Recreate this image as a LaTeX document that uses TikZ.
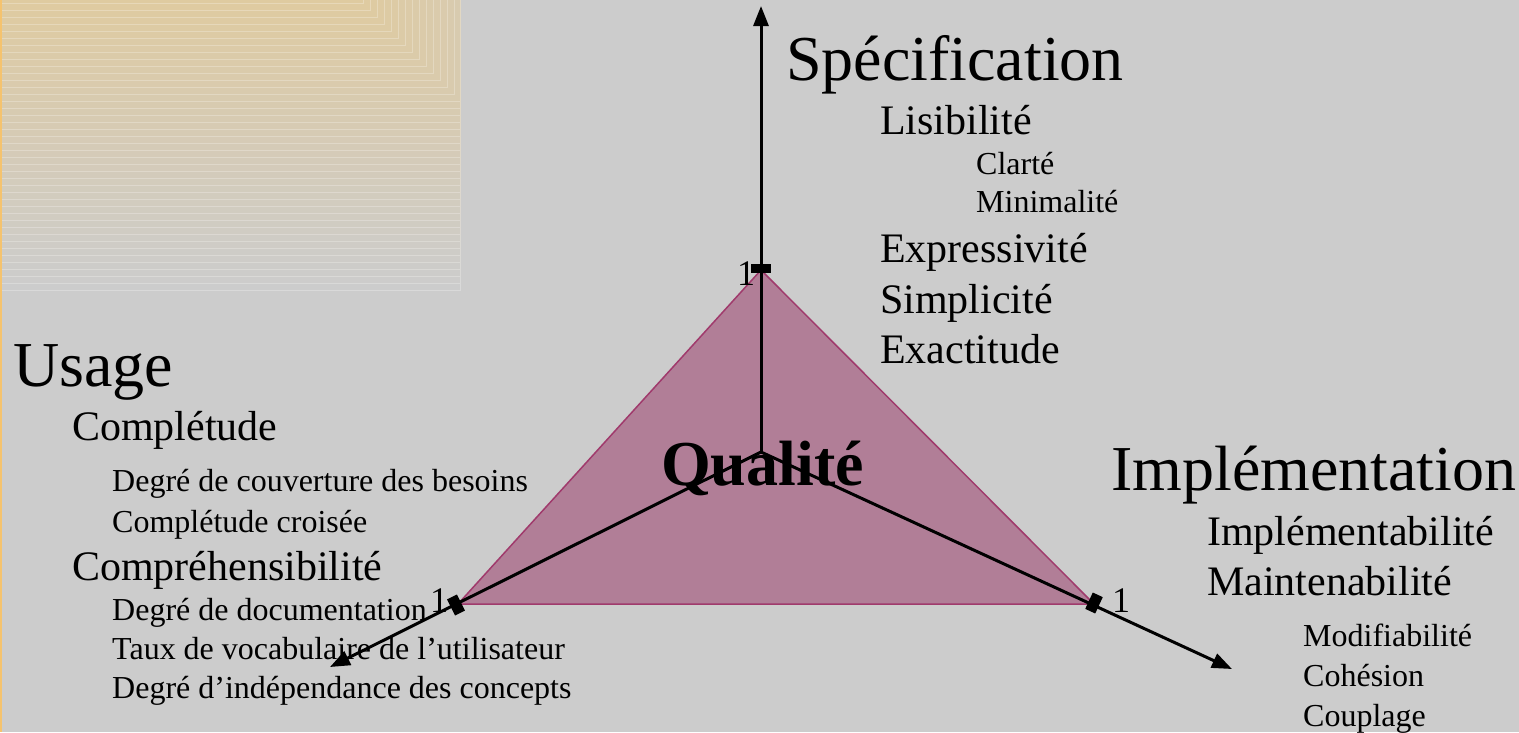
\documentclass[tikz,border=0pt]{standalone}
\usepackage{fontspec}
\setmainfont{Liberation Serif}
\usetikzlibrary{arrows.meta}
\definecolor{bgc}{RGB}{204,204,204}
\definecolor{tanc}{RGB}{223,203,160}
\definecolor{edgeo}{RGB}{245,195,110}
\definecolor{trifill}{RGB}{177,126,151}
\definecolor{tridraw}{RGB}{160,58,108}
\tikzset{
  lbl/.style={anchor=base west, inner sep=0pt, text=black},
  big/.style={lbl, font=\fontsize{64}{64}\selectfont},
  mid/.style={lbl, font=\fontsize{42}{42}\selectfont},
  sml/.style={lbl, font=\fontsize{32}{32}\selectfont},
  one/.style={lbl, font=\fontsize{36}{36}\selectfont},
  axis/.style={line width=3pt, -{Triangle[length=20pt,width=15pt]}},
  tick/.style={rectangle, fill=black, inner sep=0pt, minimum width=20pt, minimum height=9pt},
  stick/.style={rectangle, fill=black, inner sep=0pt, minimum width=18pt, minimum height=11pt},
}
\begin{document}
\begin{tikzpicture}[x=1pt,y=-1pt]
\useasboundingbox (0,0) rectangle (1519,732);
\fill[bgc] (0,0) rectangle (1519,732);
% top-left gradient of nested rectangles
\foreach \i in {0,...,41}{
  \pgfmathsetmacro{\h}{290-7*\i}
  \pgfmathsetmacro{\w}{min(460,360+\h)}
  \pgfmathsetmacro{\p}{100*\i/41}
  \colorlet{cur}{tanc!\p!bgc}
  \fill[cur] (0,0) rectangle (\w,\h);
  \draw[white!25!cur, line width=1pt] (0,\h) -- (\w,\h) -- (\w,0);
}
\draw[edgeo, line width=2pt] (1,0) -- (1,732);
% geometry
\coordinate (O) at (761,452);
\coordinate (A) at (761,270);
\coordinate (B) at (458,604);
\coordinate (C) at (1094,604);
\coordinate (eT) at (761,6);
\coordinate (eL) at (330,667);
\coordinate (eR) at (1232,669);
\draw[fill=trifill, draw=tridraw, line width=1.5pt, line join=miter] (A) -- (B) -- (C) -- cycle;
\draw[axis] (O) -- (eT);
\draw[axis] (O) -- (eL);
\draw[axis] (O) -- (eR);
\node[tick] (tA) at (761,268) {};
\node[stick, rotate=116.57] (tB) at (456,605) {};
\node[stick, rotate=65.3] (tC) at (1094,603) {};
\node[one] (oA) at (737,285) {1};
\node[one] (oB) at (430,612) {1};
\node[one] (oC) at (1112,612) {1};
\node[lbl, font=\fontsize{64}{64}\selectfont\bfseries] (q) at (661,485) {Qualité};
% Spécification
\node[big] (s0) at (786,80) {Spécification};
\node[mid] (s1) at (880,134) {Lisibilité};
\node[sml] (s2) at (976,174) {Clarté};
\node[sml] (s3) at (976,212) {Minimalité};
\node[mid] (s4) at (880,262) {Expressivité};
\node[mid] (s5) at (880,313) {Simplicité};
\node[mid] (s6) at (880,363) {Exactitude};
% Usage
\node[big] (u0) at (13,386) {Usage};
\node[mid] (u1) at (72,440) {Complétude};
\node[sml] (u2) at (112,491) {Degré de couverture des besoins};
\node[sml] (u3) at (112,532) {Complétude croisée};
\node[mid] (u4) at (72,580) {Compréhensibilité};
\node[sml] (u5) at (112,620) {Degré de documentation};
\node[sml] (u6) at (112,659) {Taux de vocabulaire de l’utilisateur};
\node[sml] (u7) at (112,698) {Degré d’indépendance des concepts};
% Implémentation
\node[big] (i0) at (1111,490) {Implémentation};
\node[mid] (i1) at (1207,545) {Implémentabilité};
\node[mid] (i2) at (1207,595) {Maintenabilité};
\node[sml] (i3) at (1303,646) {Modifiabilité};
\node[sml] (i4) at (1303,686) {Cohésion};
\node[sml] (i5) at (1303,726) {Couplage};
\end{tikzpicture}
\end{document}
